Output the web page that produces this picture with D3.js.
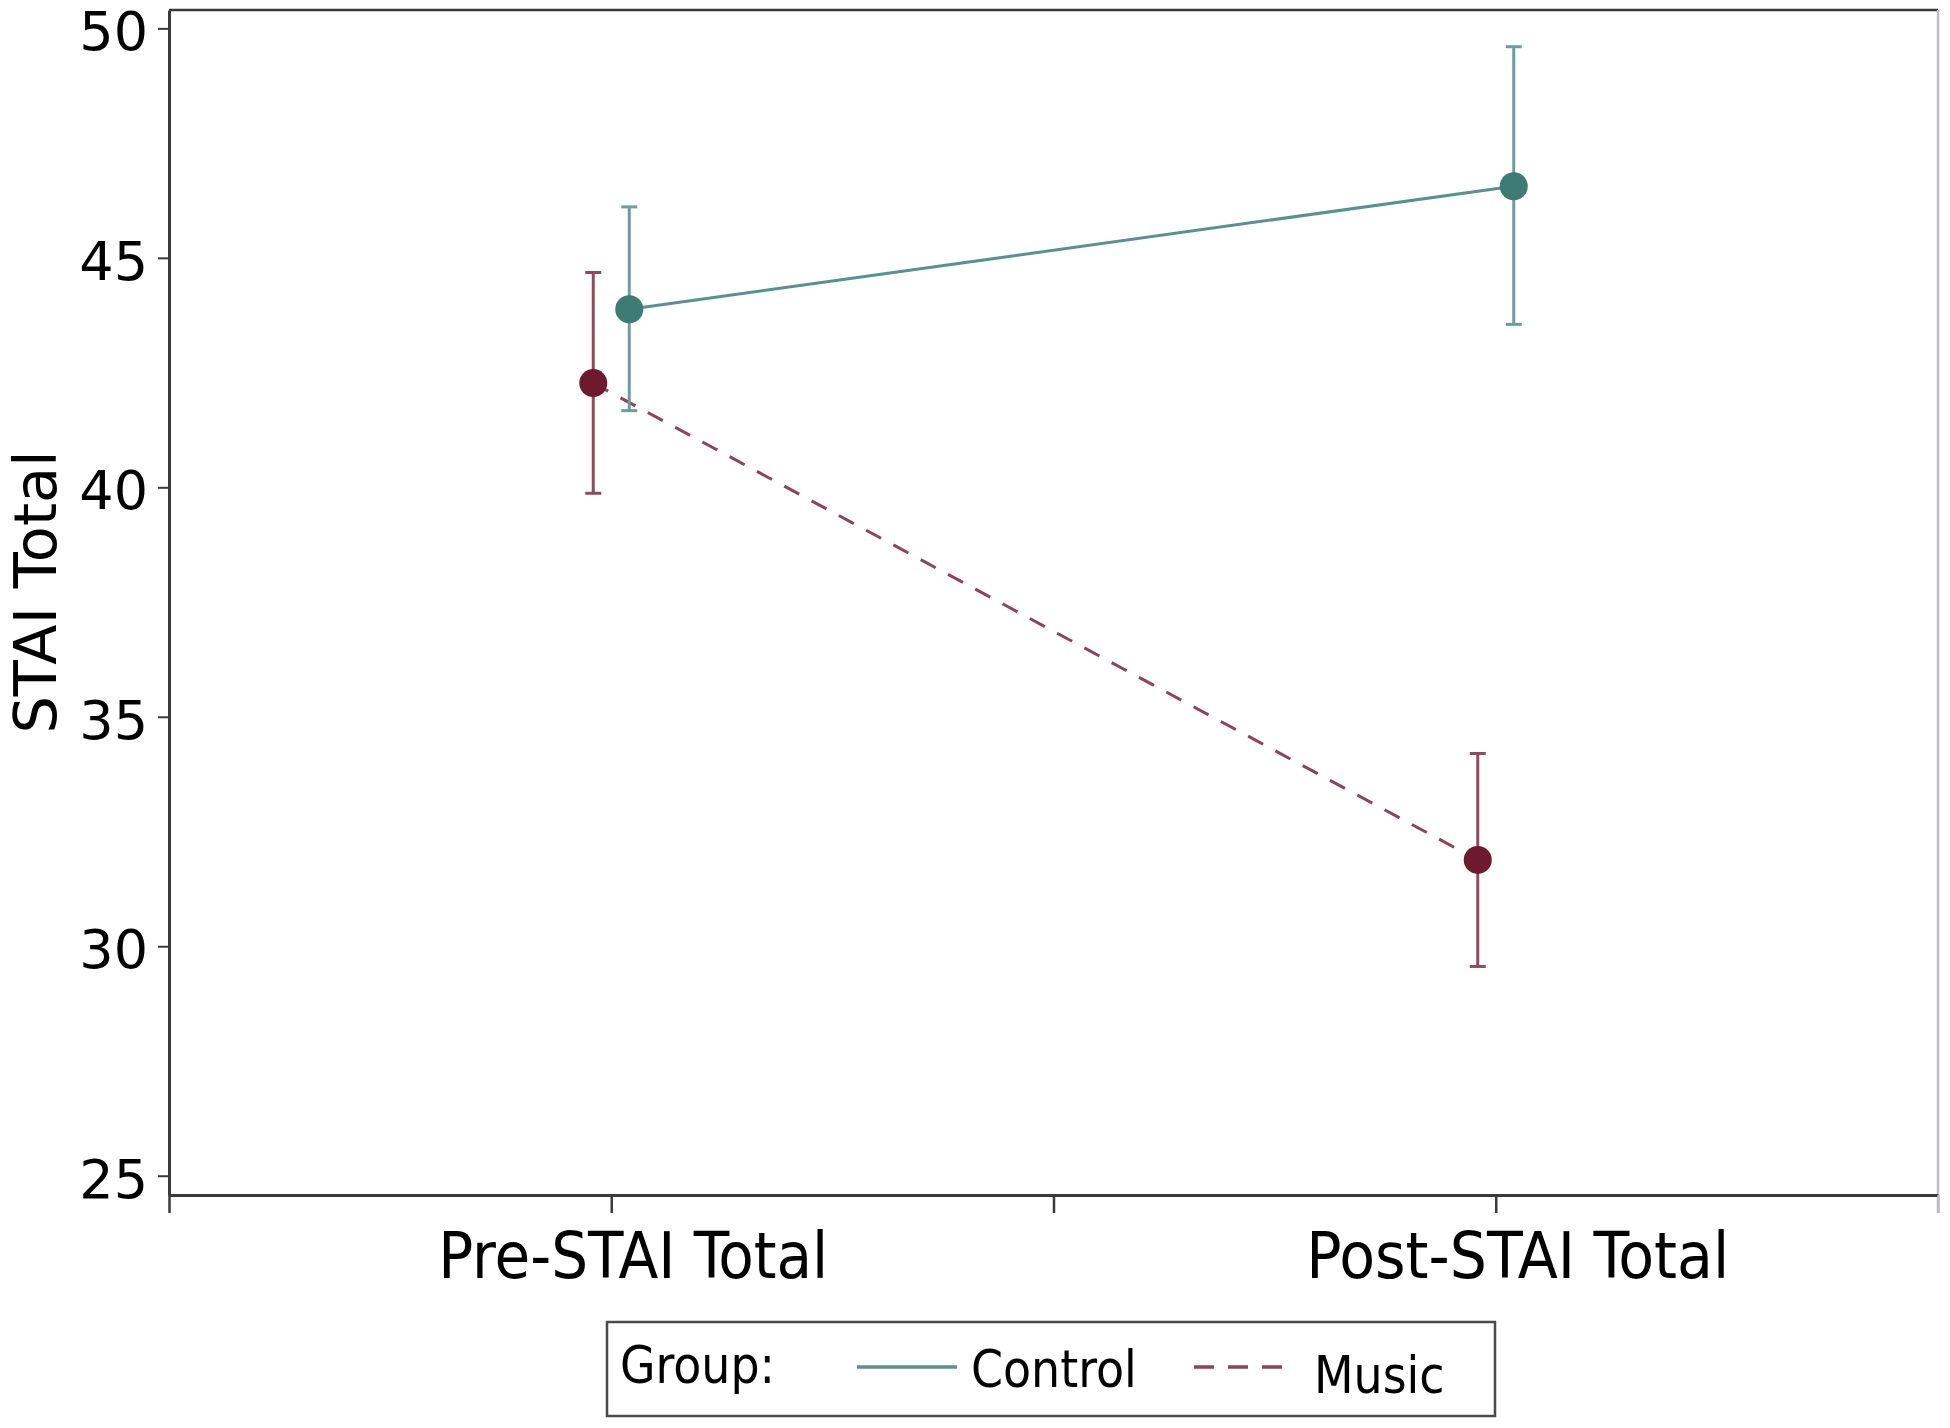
<!DOCTYPE html>
<html>
<head>
<meta charset="utf-8">
<script src="https://cdn.jsdelivr.net/npm/d3@7"></script>
<style>
  html, body { margin: 0; padding: 0; background: #ffffff; }
  svg { display: block; }
</style>
</head>
<body>
<svg id="chart" width="1950" height="1428"></svg>
<script>
// ---------------- data ----------------
const categories = ["Pre-STAI Total", "Post-STAI Total"];
const categoryPos = [1, 2];
const groups = ["Control", "Music"];
const controlMean  = [43.88, 46.56];
const controlLower = [41.67, 43.55];
const controlUpper = [46.11, 49.60];
const musicMean    = [42.27, 31.88];
const musicLower   = [39.87, 29.56];
const musicUpper   = [44.68, 34.20];
const yTicks = [25, 30, 35, 40, 45, 50];
const xTicks = [0.5, 1, 1.5, 2, 2.5];
const yTitle = "STAI Total";
const legendTitle = "Group:";

(function () {
// ---------------- layout ----------------
const pLeft = 169, pRight = 1938, pTop = 10, pBottom = 1195;
const svg = d3.select("#chart");
const x = d3.scaleLinear().domain([0.5, 2.5]).range([pLeft, pRight]);
const y = d3.scaleLinear().domain([24.58, 50.4]).range([pBottom, pTop]);

const colors = {
  Control: { point: "#3e7b74", line: "#5a928b", bar: "#6a9e98" },
  Music:   { point: "#6d1a2f", line: "#8d4457", bar: "#8f4a5c" }
};
const offsetPx = { Control: 18, Music: -18 };

const series = [
  { name: "Control", mean: controlMean, lo: controlLower, hi: controlUpper, dash: null },
  { name: "Music",   mean: musicMean,   lo: musicLower,   hi: musicUpper,   dash: "17,14" }
];

// frame: top and right
svg.append("line").attr("x1", pLeft).attr("x2", pRight).attr("y1", pTop).attr("y2", pTop)
  .attr("stroke", "#3a3a3a").attr("stroke-width", 2.5);
svg.append("line").attr("x1", pRight).attr("x2", pRight).attr("y1", pTop).attr("y2", pBottom + 18)
  .attr("stroke", "#bdbdbd").attr("stroke-width", 2.5);

// y axis
const yAxis = svg.append("g").attr("transform", `translate(${pLeft},0)`)
  .call(d3.axisLeft(y).tickValues(yTicks).tickSize(11).tickSizeOuter(0).tickPadding(10));
yAxis.select(".domain").attr("stroke", "#3a3a3a").attr("stroke-width", 3);
yAxis.selectAll(".tick line").attr("stroke", "#3a3a3a").attr("stroke-width", 2);
yAxis.selectAll(".tick text")
  .attr("font-family", "'DejaVu Sans', sans-serif")
  .attr("font-size", 54).attr("fill", "#000")
  .attr("dy", "0.4em");

// x axis
const xAxis = svg.append("g").attr("transform", `translate(0,${pBottom})`)
  .call(d3.axisBottom(x).tickValues(xTicks).tickSize(18).tickSizeOuter(0).tickFormat(""));
xAxis.select(".domain").attr("stroke", "#3a3a3a").attr("stroke-width", 3);
xAxis.selectAll(".tick line").attr("stroke", (d) => d === 2.5 ? "#bdbdbd" : "#3a3a3a").attr("stroke-width", 2.5);

// category labels
svg.append("g").selectAll("text").data(categories).join("text")
  .attr("x", (d, i) => x(categoryPos[i]) + 22)
  .attr("y", 1278)
  .attr("text-anchor", "middle")
  .attr("font-family", "'DejaVu Sans Condensed', 'DejaVu Sans', sans-serif")
  .attr("font-stretch", "condensed")
  .attr("font-size", 64).attr("fill", "#000")
  .attr("textLength", (d, i) => i === 0 ? 390 : 423)
  .attr("lengthAdjust", "spacingAndGlyphs")
  .text(d => d);

// y title
svg.append("text")
  .attr("transform", "translate(56,592) rotate(-90)")
  .attr("text-anchor", "middle")
  .attr("font-family", "'DejaVu Sans', sans-serif")
  .attr("font-size", 59).attr("fill", "#000")
  .text(yTitle);

// lines
series.forEach(s => {
  const pts = categoryPos.map((c, i) => [x(c) + offsetPx[s.name], y(s.mean[i])]);
  svg.append("path")
    .attr("d", d3.line()(pts))
    .attr("fill", "none")
    .attr("stroke", colors[s.name].line)
    .attr("stroke-width", 3)
    .attr("stroke-dasharray", s.dash);
});

// error bars and points
series.forEach(s => {
  const g = svg.append("g");
  categoryPos.forEach((c, i) => {
    const cx = x(c) + offsetPx[s.name];
    g.append("line").attr("x1", cx).attr("x2", cx)
      .attr("y1", y(s.lo[i])).attr("y2", y(s.hi[i]))
      .attr("stroke", colors[s.name].bar).attr("stroke-width", 3);
    [s.lo[i], s.hi[i]].forEach(v => {
      g.append("line").attr("x1", cx - 8).attr("x2", cx + 8)
        .attr("y1", y(v)).attr("y2", y(v))
        .attr("stroke", colors[s.name].bar).attr("stroke-width", 3);
    });
    g.append("circle").attr("cx", cx).attr("cy", y(s.mean[i])).attr("r", 14)
      .attr("fill", colors[s.name].point);
  });
});

// legend
const lg = svg.append("g");
lg.append("rect").attr("x", 607).attr("y", 1322).attr("width", 888).attr("height", 94)
  .attr("fill", "#fff").attr("stroke", "#4a4a4a").attr("stroke-width", 2.5);
const legendFont = "'DejaVu Sans Condensed', 'DejaVu Sans', sans-serif";
lg.append("text").attr("x", 620).attr("y", 1383)
  .attr("font-family", legendFont).attr("font-stretch", "condensed")
  .attr("font-size", 51).attr("fill", "#000").text(legendTitle);
const legendItems = [
  { name: groups[0], lx: 857, tx: 971, ty: 1387, dash: null },
  { name: groups[1], lx: 1194, tx: 1314, ty: 1393, dash: "20,14" }
];
legendItems.forEach(it => {
  lg.append("line").attr("x1", it.lx).attr("x2", it.lx + 100 - (it.dash ? 12 : 0))
    .attr("y1", 1367).attr("y2", 1367)
    .attr("stroke", colors[it.name].line).attr("stroke-width", 3.5)
    .attr("stroke-dasharray", it.dash);
  lg.append("text").attr("x", it.tx).attr("y", it.ty)
    .attr("font-family", legendFont).attr("font-stretch", "condensed")
    .attr("font-size", 51).attr("fill", "#000").text(it.name);
});
})();
</script>
</body>
</html>
